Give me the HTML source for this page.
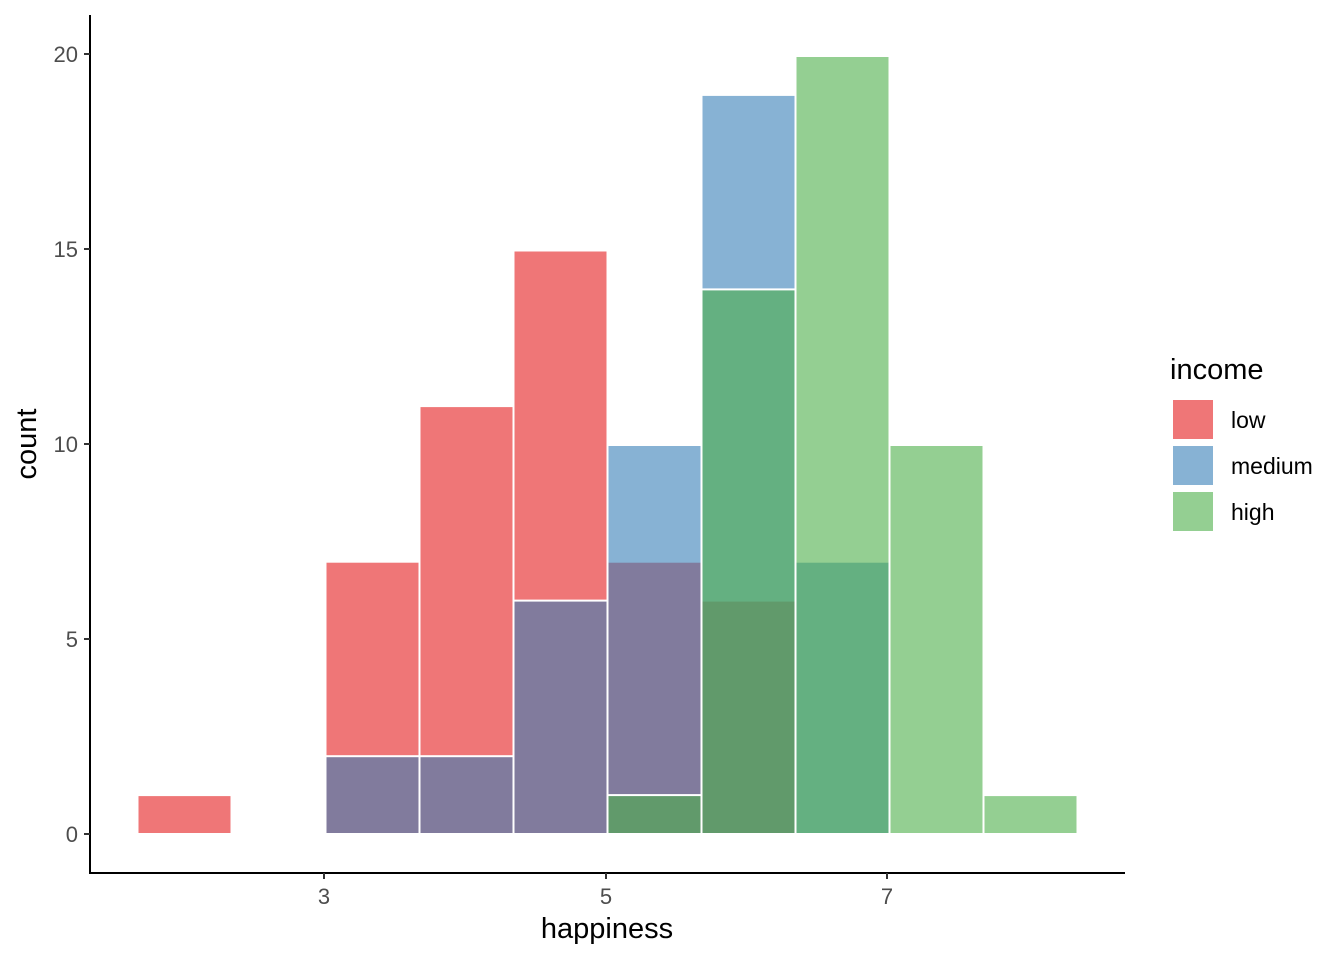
<!DOCTYPE html>
<html><head><meta charset="utf-8"><style>html,body{margin:0;padding:0;background:#fff}svg{display:block}text{font-family:"Liberation Sans",Arial,sans-serif}</style></head><body>
<svg width="1344" height="960" viewBox="0 0 1344 960" xmlns="http://www.w3.org/2000/svg">
<g stroke="#fff" stroke-width="2">
<g fill="#E41A1C" fill-opacity="0.6">
<rect x="137.5" y="795.1" width="94" height="38.9"/>
<rect x="325.5" y="561.7" width="94" height="272.3"/>
<rect x="419.5" y="406.1" width="94" height="427.9"/>
<rect x="513.5" y="250.5" width="94" height="583.5"/>
<rect x="607.5" y="561.7" width="94" height="272.3"/>
<rect x="701.5" y="600.6" width="94" height="233.4"/>
</g>
<g fill="#377EB8" fill-opacity="0.6">
<rect x="325.5" y="756.2" width="94" height="77.8"/>
<rect x="419.5" y="756.2" width="94" height="77.8"/>
<rect x="513.5" y="600.6" width="94" height="233.4"/>
<rect x="607.5" y="445" width="94" height="389"/>
<rect x="701.5" y="94.9" width="94" height="739.1"/>
<rect x="795.5" y="561.7" width="94" height="272.3"/>
</g>
<g fill="#4DAF4A" fill-opacity="0.6">
<rect x="607.5" y="795.1" width="94" height="38.9"/>
<rect x="701.5" y="289.4" width="94" height="544.6"/>
<rect x="795.5" y="56" width="94" height="778"/>
<rect x="889.5" y="445" width="94" height="389"/>
<rect x="983.5" y="795.1" width="94" height="38.9"/>
</g>
</g>
<g stroke="#000" stroke-width="2" fill="none">
<path d="M90,15 V873 H1125"/>
</g>
<g stroke="#333" stroke-width="2">
<path d="M84,54H90M84,249H90M84,444H90M84,639H90M84,834H90"/>
<path d="M324,873V879M606,873V879M887,873V879"/>
</g>
<g fill="#4d4d4d" font-size="22" text-anchor="end">
<text x="78" y="62">20</text><text x="78" y="257">15</text><text x="78" y="452">10</text><text x="78" y="647">5</text><text x="78" y="842">0</text>
</g>
<g fill="#4d4d4d" font-size="22" text-anchor="middle">
<text x="324" y="904">3</text><text x="606" y="904">5</text><text x="887" y="904">7</text>
</g>
<text x="607" y="938" font-size="29" text-anchor="middle">happiness</text>
<text transform="translate(36,444) rotate(-90)" font-size="29" text-anchor="middle">count</text>
<text x="1170" y="379" font-size="29">income</text>
<rect x="1173" y="400" width="40" height="39" fill="#E41A1C" fill-opacity="0.6"/>
<rect x="1173" y="446" width="40" height="39" fill="#377EB8" fill-opacity="0.6"/>
<rect x="1173" y="492" width="40" height="39" fill="#4DAF4A" fill-opacity="0.6"/>
<g font-size="23"><text x="1231" y="428">low</text><text x="1231" y="474">medium</text><text x="1231" y="520">high</text></g>
</svg>
</body></html>
